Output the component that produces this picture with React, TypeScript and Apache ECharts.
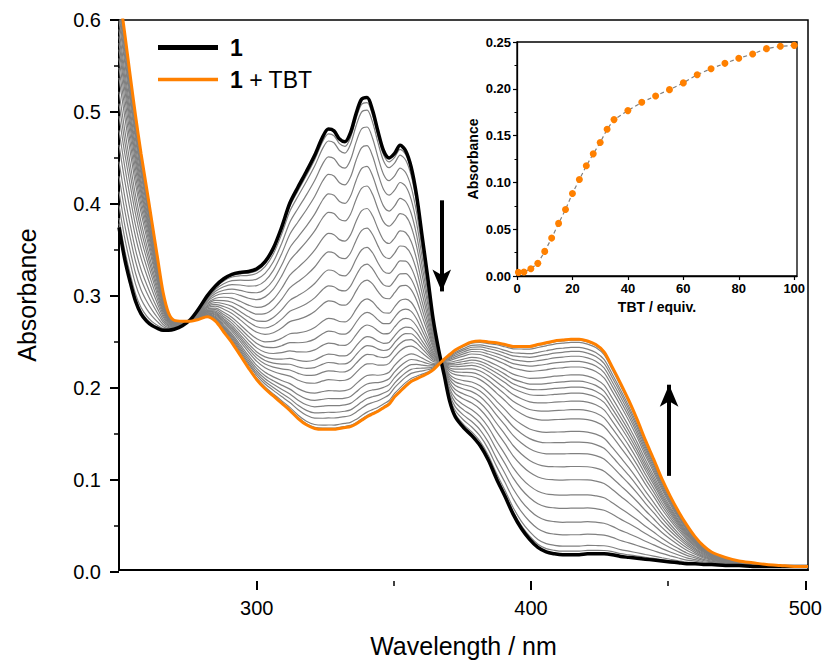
import React, { useEffect, useRef } from "react";
import * as echarts from "echarts";

// ---- Main spectra (wavelength in nm, absorbance) ----
const wavelengths = [
  250, 252, 254, 256, 258, 260, 262, 264, 266, 268, 270, 273, 276, 279, 282, 285, 288, 291, 294, 297,
  300, 303, 306, 309, 312, 315, 318, 321, 324, 326, 328, 330, 332, 334, 336, 338, 340, 342, 344, 346,
  348, 350, 352, 354, 356, 358, 360, 362, 364, 366, 368, 370, 372, 375, 378, 381, 384, 387, 390, 393,
  396, 399, 402, 405, 408, 411, 414, 417, 420, 423, 426, 429, 432, 435, 438, 441, 444, 447, 450, 453,
  456, 459, 462, 465, 470, 475, 480, 485, 490, 495, 500,
];

// compound 1 (black)
const spectrumFree = [
  0.370, 0.336, 0.310, 0.288, 0.274, 0.266, 0.261, 0.258, 0.256, 0.256, 0.257, 0.261, 0.268, 0.280, 0.294, 0.305, 0.313, 0.318, 0.320, 0.321,
  0.324, 0.332, 0.347, 0.370, 0.397, 0.415, 0.432, 0.450, 0.471, 0.479, 0.477, 0.468, 0.465, 0.475, 0.496, 0.512, 0.514, 0.500, 0.476, 0.455,
  0.447, 0.452, 0.461, 0.455, 0.437, 0.405, 0.360, 0.315, 0.268, 0.234, 0.206, 0.177, 0.160, 0.148, 0.139, 0.128, 0.112, 0.091, 0.072, 0.052,
  0.036, 0.024, 0.015, 0.010, 0.008, 0.007, 0.007, 0.007, 0.008, 0.008, 0.008, 0.007, 0.005, 0.004, 0.003, 0.002, 0.001, 0.000, -0.001, -0.002,
  -0.003, -0.003, -0.004, -0.004, -0.005, -0.005, -0.006, -0.006, -0.006, -0.006, -0.006,
];

// 1 + TBT (orange)
const spectrumTBT = [
  0.633, 0.587, 0.540, 0.494, 0.452, 0.414, 0.375, 0.336, 0.298, 0.275, 0.267, 0.266, 0.266, 0.268, 0.271, 0.266, 0.254, 0.242, 0.228, 0.214,
  0.201, 0.191, 0.183, 0.175, 0.167, 0.158, 0.151, 0.147, 0.146, 0.146, 0.146, 0.147, 0.148, 0.149, 0.152, 0.156, 0.160, 0.163, 0.166, 0.170,
  0.174, 0.182, 0.188, 0.194, 0.199, 0.202, 0.205, 0.208, 0.212, 0.218, 0.224, 0.229, 0.234, 0.239, 0.243, 0.244, 0.243, 0.242, 0.240, 0.238,
  0.238, 0.238, 0.240, 0.242, 0.244, 0.245, 0.246, 0.246, 0.244, 0.240, 0.232, 0.215, 0.197, 0.178, 0.157, 0.134, 0.113, 0.091, 0.072, 0.055,
  0.040, 0.027, 0.017, 0.010, 0.004, 0.000, -0.002, -0.004, -0.005, -0.006, -0.006,
];

// ---- Inset: titration curve ----
const tbtEquiv = [
  0.5, 2.5, 5, 7.5, 10, 12.5, 15, 17.5, 20, 22.5, 25, 27.5, 30, 32.5, 35,
  40, 45, 50, 55, 60, 65, 70, 75, 80, 85, 90, 95, 100,
];
const titrationAbs = [
  0.0039, 0.0043, 0.0078, 0.0135, 0.0263, 0.0405, 0.0562, 0.0711, 0.0882, 0.1031, 0.1177, 0.1305, 0.1426, 0.1568, 0.1671,
  0.1767, 0.1856, 0.1924, 0.1991, 0.2063, 0.2151, 0.2215, 0.2272, 0.2326, 0.2372, 0.2429, 0.2454, 0.2464,
];

// axis ranges
const mainX = { min: 250, max: 500, tickMin: 300, tickInterval: 100 };
const mainY = { min: -0.01, max: 0.6, tickMin: 0, tickInterval: 0.1 };
const insetX = { min: 0, max: 101, tickMax: 100, tickInterval: 20 };

const ORANGE = "#FF8000";
const GRAY = "#808080";
const FONT = "'Liberation Sans', Arial, Helvetica, sans-serif";

// main plot frame
const M = { left: 119, top: 20, width: 689, height: 561 };
// inset frame
const I = { left: 517, top: 42, width: 280, height: 234 };

export default function App() {
  const ref = useRef<HTMLDivElement>(null);

  useEffect(() => {
    if (!ref.current) return;
    const chart = echarts.init(ref.current, undefined, { renderer: "svg" });

    const pair = (vals: number[]) => wavelengths.map((w, i) => [w, vals[i]]);

    // Intermediate titration spectra: two-state mixtures of the measured end spectra,
    // weighted by the measured titration progress of the inset (isosbestic behaviour).
    const a0 = titrationAbs[0];
    const a1 = titrationAbs[titrationAbs.length - 1];
    const graySeries: any[] = [];
    for (let k = 1; k < titrationAbs.length - 1; k++) {
      const f = (titrationAbs[k] - a0) / (a1 - a0);
      graySeries.push({
        type: "line",
        name: "titration",
        xAxisIndex: 0,
        yAxisIndex: 0,
        showSymbol: false,
        smooth: 0.3,
        silent: true,
        lineStyle: { color: GRAY, width: 1.2 },
        data: wavelengths.map((w, i) => [w, spectrumFree[i] + f * (spectrumTBT[i] - spectrumFree[i])]),
      });
    }

    // helper grids carrying the tick marks so that ticks start on round values
    const pxPerX = M.width / (mainX.max - mainX.min);
    const tickGridXLeft = M.left + (mainX.tickMin - mainX.min) * pxPerX;
    const pxPerY = M.height / (mainY.max - mainY.min);
    const tickGridHeight = (mainY.max - mainY.tickMin) * pxPerY;
    const xOffset = M.height - tickGridHeight;
    const yOffset = tickGridXLeft - M.left;
    const insetTickWidth = I.width * (insetX.tickMax - insetX.min) / (insetX.max - insetX.min);

    const option: any = {
      animation: false,
      backgroundColor: "#fff",
      textStyle: { fontFamily: FONT },
      grid: [
        { left: M.left, top: M.top, width: M.width, height: M.height, show: true, borderColor: "#000", borderWidth: 1.5, backgroundColor: "transparent" },
        { left: I.left, top: I.top, width: I.width, height: I.height, show: true, borderColor: "#000", borderWidth: 1.3, backgroundColor: "#fff", z: 5 },
        { left: tickGridXLeft, top: M.top, width: M.left + M.width - tickGridXLeft, height: tickGridHeight, show: false },
        { left: I.left, top: I.top, width: insetTickWidth, height: I.height, show: false },
      ],
      xAxis: [
        {
          gridIndex: 0, type: "value", min: mainX.min, max: mainX.max, position: "bottom",
          name: "Wavelength / nm", nameLocation: "middle", nameGap: 63,
          nameTextStyle: { fontSize: 25, color: "#000", fontFamily: FONT },
          axisLine: { onZero: false, lineStyle: { color: "#000", width: 2 } },
          axisTick: { show: false },
          axisLabel: { show: false },
          splitLine: { show: false },
        },
        {
          gridIndex: 1, type: "value", min: insetX.min, max: insetX.max, position: "bottom",
          name: "TBT / equiv.", nameLocation: "middle", nameGap: 24,
          nameTextStyle: { fontSize: 14, fontWeight: "bold", color: "#000", fontFamily: FONT },
          axisLine: { onZero: false, lineStyle: { color: "#000", width: 1.3 } },
          axisTick: { show: false },
          axisLabel: { show: false },
          splitLine: { show: false },
          z: 6,
        },
        {
          gridIndex: 2, type: "value", min: mainX.tickMin, max: mainX.max, interval: mainX.tickInterval, position: "bottom",
          offset: xOffset,
          axisLine: { show: false, onZero: false },
          axisTick: { show: true, length: 9, lineStyle: { color: "#000", width: 2 } },
          minorTick: { show: true, splitNumber: 2, length: 5, lineStyle: { color: "#000", width: 1.5 } },
          axisLabel: { fontSize: 20, color: "#000", margin: 17, fontFamily: FONT },
          splitLine: { show: false },
        },
        {
          gridIndex: 3, type: "value", min: insetX.min, max: insetX.tickMax, interval: insetX.tickInterval, position: "bottom",
          axisLine: { show: false, onZero: false },
          axisTick: { show: true, length: 4, lineStyle: { color: "#000", width: 1.2 } },
          axisLabel: { fontSize: 13, fontWeight: "bold", color: "#000", margin: 6, fontFamily: FONT },
          splitLine: { show: false },
          z: 6,
        },
      ],
      yAxis: [
        {
          gridIndex: 0, type: "value", min: mainY.min, max: mainY.max, position: "left",
          name: "Absorbance", nameLocation: "middle", nameGap: 80,
          nameTextStyle: { fontSize: 25, color: "#000", fontFamily: FONT },
          axisLine: { show: true, onZero: false, lineStyle: { color: "#000", width: 2 } },
          axisTick: { show: false },
          axisLabel: { show: false },
          splitLine: { show: false },
        },
        {
          gridIndex: 1, type: "value", min: 0, max: 0.25, interval: 0.05, position: "left",
          name: "Absorbance", nameLocation: "middle", nameGap: 37,
          nameTextStyle: { fontSize: 14, fontWeight: "bold", color: "#000", fontFamily: FONT },
          axisLine: { show: true, onZero: false, lineStyle: { color: "#000", width: 1.3 } },
          axisTick: { show: true, length: 4, lineStyle: { color: "#000", width: 1.2 } },
          minorTick: { show: true, splitNumber: 2, length: 2.5, lineStyle: { color: "#000" } },
          axisLabel: { fontSize: 13, fontWeight: "bold", color: "#000", margin: 6, formatter: (v: number) => v.toFixed(2), fontFamily: FONT },
          splitLine: { show: false },
          z: 6,
        },
        {
          gridIndex: 2, type: "value", min: mainY.tickMin, max: mainY.max, interval: mainY.tickInterval, position: "left",
          offset: yOffset,
          axisLine: { show: false, onZero: false },
          axisTick: { show: true, length: 9, lineStyle: { color: "#000", width: 2 } },
          minorTick: { show: true, splitNumber: 2, length: 5, lineStyle: { color: "#000", width: 1.5 } },
          axisLabel: { fontSize: 20, color: "#000", margin: 18, formatter: (v: number) => v.toFixed(1), fontFamily: FONT },
          splitLine: { show: false },
        },
        {
          gridIndex: 3, type: "value", min: 0, max: 0.25, position: "left",
          show: false,
        },
      ],
      legend: [
        {
          left: 153, top: 31, orient: "vertical", icon: "rect", itemWidth: 60, itemHeight: 5,
          data: ["1"], selectedMode: false,
          formatter: () => "{b|1}",
          textStyle: { fontSize: 23, color: "#000", fontFamily: FONT, rich: { b: { fontSize: 23, fontWeight: "bold", padding: [0, 0, 0, 7], fontFamily: FONT } } },
        },
        {
          left: 153, top: 63, orient: "vertical", icon: "rect", itemWidth: 60, itemHeight: 3.5,
          data: ["1 + TBT"], selectedMode: false,
          formatter: () => "{b|1} + TBT",
          textStyle: { fontSize: 23, color: "#000", fontFamily: FONT, rich: { b: { fontSize: 23, fontWeight: "bold", padding: [0, 0, 0, 7], fontFamily: FONT } } },
        },
      ],
      series: [
        ...graySeries,
        {
          type: "line", name: "1", xAxisIndex: 0, yAxisIndex: 0, showSymbol: false, smooth: 0.3, silent: true,
          color: "#000", lineStyle: { color: "#000", width: 3.5 }, data: pair(spectrumFree), z: 3,
        },
        {
          type: "line", name: "1 + TBT", xAxisIndex: 0, yAxisIndex: 0, showSymbol: false, smooth: 0.3, silent: true,
          color: ORANGE, lineStyle: { color: ORANGE, width: 3 }, data: pair(spectrumTBT), z: 4,
        },
        {
          type: "line", name: "arrows", xAxisIndex: 0, yAxisIndex: 0, data: [], silent: true,
          markLine: {
            silent: true, animation: false,
            symbol: ["none", "arrow"], symbolSize: [14, 22],
            label: { show: false },
            lineStyle: { color: "#000", width: 4, type: "solid" },
            data: [
              [{ coord: [367.1, 0.4] }, { coord: [367.1, 0.299] }],
              [{ coord: [449.6, 0.0944] }, { coord: [449.6, 0.1955] }],
            ],
          },
        },
        {
          type: "line", name: "titration curve", xAxisIndex: 1, yAxisIndex: 1,
          symbol: "circle", symbolSize: 7, showSymbol: true, silent: true,
          itemStyle: { color: ORANGE, borderWidth: 0 },
          lineStyle: { color: GRAY, width: 1.2, type: [4, 3] },
          data: tbtEquiv.map((x, i) => [x, titrationAbs[i]]),
          z: 10,
        },
      ],
    };

    chart.setOption(option);
    return () => chart.dispose();
  }, []);

  return <div ref={ref} style={{ width: 825, height: 663, position: "absolute", left: 0, top: 0 }} />;
}
